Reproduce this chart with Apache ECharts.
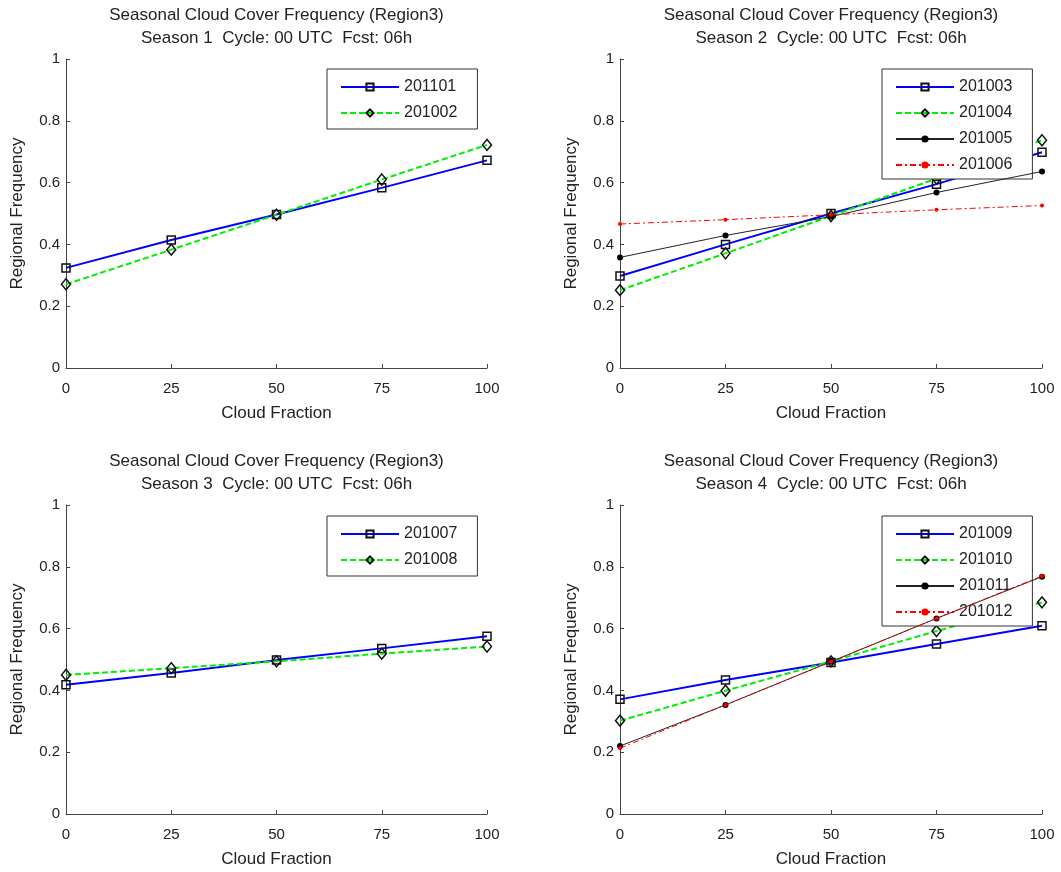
<!DOCTYPE html>
<html>
<head>
<meta charset="utf-8">
<script src="https://cdn.jsdelivr.net/npm/echarts@6/dist/echarts.min.js"></script>
<style>html,body{margin:0;padding:0;background:#fff}#c{width:1061px;height:872px}</style>
</head>
<body>
<div id="c"></div>
<script>
// ---- data ----
const cloudFraction = [0, 25, 50, 75, 100];
const yTicks = [0, 0.2, 0.4, 0.6, 0.8, 1];

// Season 1
const s1Names = ['201101', '201002'];
const s1_201101 = [0.324, 0.414, 0.497, 0.583, 0.672];
const s1_201002 = [0.271, 0.383, 0.496, 0.610, 0.722];
// Season 2
const s2Names = ['201003', '201004', '201005', '201006'];
const s2_201003 = [0.298, 0.400, 0.500, 0.595, 0.698];
const s2_201004 = [0.252, 0.371, 0.492, 0.613, 0.737];
const s2_201005 = [0.358, 0.429, 0.490, 0.568, 0.636];
const s2_201006 = [0.466, 0.480, 0.496, 0.512, 0.526];
// Season 3
const s3Names = ['201007', '201008'];
const s3_201007 = [0.418, 0.456, 0.498, 0.536, 0.575];
const s3_201008 = [0.450, 0.472, 0.494, 0.519, 0.542];
// Season 4
const s4Names = ['201009', '201010', '201011', '201012'];
const s4_201009 = [0.371, 0.434, 0.490, 0.550, 0.609];
const s4_201010 = [0.302, 0.399, 0.494, 0.592, 0.685];
const s4_201011 = [0.220, 0.353, 0.493, 0.633, 0.768];
const s4_201012 = [0.213, 0.353, 0.493, 0.633, 0.770];

const titleLine1 = 'Seasonal Cloud Cover Frequency (Region3)';
const titleLine2 = ['Season 1  Cycle: 00 UTC  Fcst: 06h', 'Season 2  Cycle: 00 UTC  Fcst: 06h',
                    'Season 3  Cycle: 00 UTC  Fcst: 06h', 'Season 4  Cycle: 00 UTC  Fcst: 06h'];

// ---- styles ----
const FONT = 'Liberation Sans, Arial, Helvetica, sans-serif';
const styles = [
  { line: { color: '#0000ff', width: 2, type: 'solid' }, symbol: 'rect', size: 8,
    item: { color: 'rgba(255,255,255,0)', borderColor: '#111', borderWidth: 1.5 } },
  { line: { color: '#00ee00', width: 2, type: [6, 3] }, symbol: 'diamond', size: [9, 11],
    item: { color: 'rgba(255,255,255,0)', borderColor: '#111', borderWidth: 1.5 } },
  { line: { color: '#222', width: 1, type: 'solid' }, symbol: 'circle', size: 6,
    item: { color: '#000', borderColor: '#000', borderWidth: 0 } },
  { line: { color: '#ff0000', width: 1, type: [6, 3, 2, 3] }, symbol: 'circle', size: 4,
    item: { color: '#ff0000', borderColor: '#ff0000', borderWidth: 0 } }
];

const panels = [
  { names: s1Names, data: [s1_201101, s1_201002] },
  { names: s2Names, data: [s2_201003, s2_201004, s2_201005, s2_201006] },
  { names: s3Names, data: [s3_201007, s3_201008] },
  { names: s4Names, data: [s4_201009, s4_201010, s4_201011, s4_201012] }
];

const grids = [
  { left: 66, top: 59, width: 421, height: 309 },
  { left: 620, top: 59, width: 422, height: 309 },
  { left: 66, top: 505, width: 421, height: 309 },
  { left: 620, top: 505, width: 422, height: 309 }
];
const legendBoxes = [
  { left: 327, top: 69 }, { left: 882, top: 69 },
  { left: 327, top: 516 }, { left: 882, top: 516 }
];

const option = {
  backgroundColor: '#fff',
  animation: false,
  title: [], grid: [], xAxis: [], yAxis: [], legend: [], series: []
};

const axisCommon = {
  axisLine: { show: true, lineStyle: { color: '#444', width: 1 } },
  axisTick: { show: true, inside: true, length: 4, lineStyle: { color: '#444' } },
  splitLine: { show: false },
  nameTextStyle: { fontSize: 17, color: '#222', fontFamily: FONT }
};

panels.forEach((p, i) => {
  const g = grids[i];
  option.grid.push(Object.assign({ containLabel: false }, g));
  option.title.push({
    text: titleLine1 + '\n' + titleLine2[i],
    left: g.left + g.width / 2, top: g.top - 55,
    textAlign: 'center', padding: 0,
    textStyle: { fontSize: 17, fontWeight: 'normal', color: '#222', fontFamily: FONT, lineHeight: 23 }
  });
  option.xAxis.push(Object.assign({}, axisCommon, {
    gridIndex: i, type: 'value', min: 0, max: 100, interval: 25,
    name: 'Cloud Fraction', nameLocation: 'middle', nameGap: 37,
    axisLabel: { fontSize: 15, color: '#222', fontFamily: FONT, margin: 13 }
  }));
  option.yAxis.push(Object.assign({}, axisCommon, {
    gridIndex: i, type: 'value', min: yTicks[0], max: yTicks[yTicks.length - 1], interval: 0.2,
    name: 'Regional Frequency', nameLocation: 'middle', nameGap: 40,
    axisLabel: { fontSize: 15, color: '#222', fontFamily: FONT, margin: 6 }
  }));
  option.legend.push({
    left: legendBoxes[i].left, top: legendBoxes[i].top,
    orient: 'vertical', data: p.names,
    itemWidth: 58, itemHeight: 9, itemGap: 10,
    padding: [10, 20, p.names.length > 2 ? 6 : 8, 13],
    borderColor: '#333', borderWidth: 1, backgroundColor: '#fff', borderRadius: 0,
    textStyle: { fontSize: 16, color: '#222', fontFamily: FONT, lineHeight: 16 },
    selectedMode: false
  });
  p.names.forEach((nm, k) => {
    const st = styles[k];
    option.series.push({
      type: 'line', name: nm, xAxisIndex: i, yAxisIndex: i,
      data: cloudFraction.map((x, j) => [x, p.data[k][j]]),
      symbol: st.symbol, symbolSize: st.size, showAllSymbol: true,
      lineStyle: st.line, itemStyle: st.item,
      z: 2 + k
    });
  });
});

const chart = echarts.init(document.getElementById('c'), null, { renderer: 'canvas' });
chart.setOption(option);
</script>
</body>
</html>
